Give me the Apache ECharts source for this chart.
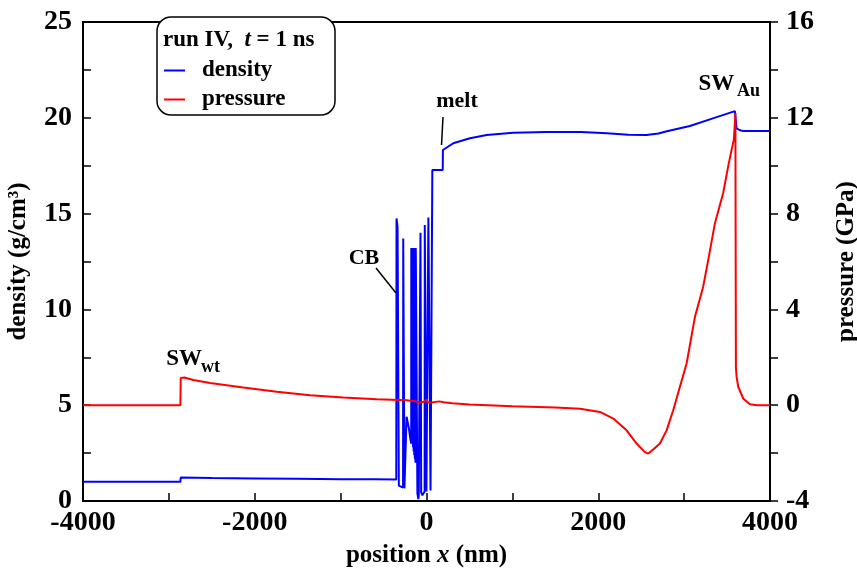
<!DOCTYPE html>
<html><head><meta charset="utf-8">
<script src="https://cdn.jsdelivr.net/npm/echarts@6/dist/echarts.min.js"></script>
<style>html,body{margin:0;padding:0;background:#fff}#c{width:857px;height:574px}</style>
</head><body><div id="c"></div>
<script>
// ---- data ----
const densityX = [-4000,-2866,-2862,-2500,-2000,-1500,-1000,-600,-352,
  -349,-340,-337,-326,-322,-300,-273,-271,-260,-257,-242,-232,-222,-205,-190,-178,
  -177,-173,-171,-167,-164,-160,-157,-153,-150,-146,-143,-139,-136,-132,-129,-125,-108,-106,
  -95,-90,-72,-70,-64,-62,-48,-22,-20,-2,-1,20,22,45,47,66,68,189,191,
  312,506,701,1010,1399,1800,2100,2350,2563,2700,2800,3067,3335,3591,3611,3650,3690,4000];
const densityY = [1.0,1.0,1.22,1.2,1.18,1.16,1.14,1.13,1.12,
  14.75,14.75,14.3,14.3,0.8,0.75,0.7,13.7,13.7,0.66,0.7,4.4,4.3,3.8,3.3,3.0,
  13.2,13.2,3.2,13.2,3.0,13.2,2.8,13.2,2.6,13.2,2.4,13.2,2.2,13.2,2.0,13.2,13.2,0.4,
  0.1,0.3,0.4,14.0,14.0,0.45,0.3,0.5,14.4,14.4,0.5,0.5,14.8,14.8,0.55,0.6,17.27,17.27,18.32,
  18.67,18.93,19.1,19.22,19.26,19.26,19.2,19.12,19.1,19.18,19.3,19.57,19.97,20.35,19.45,19.35,19.31,19.31];
const pressureX = [-4000,-2866,-2862,-2820,-2715,-2520,-2133,-1744,-1356,-969,-580,-230,-120,-76,-30,2,15,40,150,200,300,500,
  1000,1500,1788,2020,2175,2330,2447,2540,2582,2640,2718,2796,2873,2951,3029,3126,3222,3281,3359,3455,3513,3553,3580,3597,
  3603,3611,3630,3688,3766,3850,4000];
const pressureY = [0,0,1.14,1.16,1.05,0.93,0.74,0.56,0.42,0.32,0.25,0.21,0.15,0.11,0.14,0.24,0.12,0.1,0.16,0.12,0.08,0.03,
  -0.04,-0.1,-0.15,-0.28,-0.56,-1.05,-1.6,-1.95,-2.02,-1.85,-1.6,-1.05,-0.21,0.77,1.74,3.69,4.95,6.07,7.6,8.86,9.97,10.67,11.1,12.2,
  1.6,1.18,0.77,0.28,0.04,0,0];
const xTicks = {min:-4000, max:4000, step:2000};
const densityTicks = {min:0, max:25, step:5};
const pressureTicks = {min:-4, max:16, step:4};
const seriesNames = ['density','pressure'];
const legendTitle = ['run IV,  ', 't', ' = 1 ns'];
// annotations (data coordinates on the density axis)
const labels = [
  {t:'CB', x:-728, y:12.68, s:22},
  {t:'melt', x:355, y:20.88, s:22},
  {t:'SW', x:-2823, y:7.41, s:23},
  {t:'wt', x:-2515, y:6.98, s:18},
  {t:'SW', x:3375, y:21.76, s:23},
  {t:'Au', x:3750, y:21.37, s:18}
];
const pointers = [[[-588,12.16],[-355,10.86]], [[192,20.04],[175,18.58]]];

const FONT = '"Liberation Serif","Times New Roman",serif';
const zip = (a,b) => a.map((v,i)=>[v,b[i]]);
const chart = echarts.init(document.getElementById('c'), null, {renderer:'canvas'});
const tickCommon = {show:true, length:8, lineStyle:{color:'#000', width:1.5}};
const labelCommon = {color:'#000', fontFamily:FONT, fontWeight:'bold', fontSize:28, formatter:v => String(v)};
const nameCommon = {color:'#000', fontFamily:FONT, fontWeight:'bold', fontSize:25};
chart.setOption({
  animation:false,
  backgroundColor:'#fff',
  grid:{left:83, right:87, top:22, bottom:73, show:true, borderColor:'#000', borderWidth:2, backgroundColor:'transparent',
        containLabel:false, outerBoundsMode:'none'},
  legend:{
    data:seriesNames, orient:'vertical', left:159, top:54, icon:'rect', itemWidth:21, itemHeight:2, itemGap:6,
    textStyle:{color:'#000', fontFamily:FONT, fontWeight:'bold', fontSize:23, lineHeight:23, padding:[0,0,0,12]},
    z:60
  },
  xAxis:{
    type:'value', min:xTicks.min, max:xTicks.max, interval:xTicks.step,
    axisLine:{show:true, onZero:false, lineStyle:{color:'#000', width:2}},
    axisTick:Object.assign({inside:true}, tickCommon),
    minorTick:{show:true, splitNumber:2, length:8, lineStyle:{color:'#000', width:1.5}},
    splitLine:{show:false},
    axisLabel:Object.assign({margin:8}, labelCommon),
    name:'{b|position }{i|x}{b| (nm)}', nameLocation:'middle', nameGap:42,
    nameTextStyle:{rich:{b:nameCommon, i:Object.assign({}, nameCommon, {fontStyle:'italic'})}}
  },
  yAxis:[{
    type:'value', min:densityTicks.min, max:densityTicks.max, interval:densityTicks.step, position:'left',
    axisLine:{show:true, onZero:false, lineStyle:{color:'#000', width:2}},
    axisTick:Object.assign({inside:true}, tickCommon),
    minorTick:{show:true, splitNumber:2, length:8, lineStyle:{color:'#000', width:1.5}},
    splitLine:{show:false},
    axisLabel:Object.assign({margin:11}, labelCommon),
    name:'density (g/cm³)', nameLocation:'middle', nameGap:52, nameRotate:90,
    nameTextStyle:nameCommon
  },{
    type:'value', min:pressureTicks.min, max:pressureTicks.max, interval:pressureTicks.step, position:'right',
    axisLine:{show:true, onZero:false, lineStyle:{color:'#000', width:2}},
    axisTick:Object.assign({inside:false}, tickCommon),
    minorTick:{show:true, splitNumber:2, length:8, lineStyle:{color:'#000', width:1.5}},
    splitLine:{show:false},
    axisLabel:Object.assign({margin:16}, labelCommon),
    name:'pressure (GPa)', nameLocation:'middle', nameGap:64, nameRotate:90,
    nameTextStyle:nameCommon
  }],
  series:[
    {name:seriesNames[0], type:'line', yAxisIndex:0, data:zip(densityX,densityY), symbol:'none',
     lineStyle:{color:'#0000ff', width:2}, itemStyle:{color:'#0000ff'}, z:3},
    {name:seriesNames[1], type:'line', yAxisIndex:1, data:zip(pressureX,pressureY), symbol:'none',
     lineStyle:{color:'#ff0000', width:2}, itemStyle:{color:'#ff0000'}, z:4}
  ]
});

function px(x,y){ return chart.convertToPixel({xAxisIndex:0, yAxisIndex:0}, [x,y]); }
const g = [];
g.push({type:'rect', shape:{x:157, y:17, width:178, height:98, r:14}, style:{fill:'#fff', stroke:'#000', lineWidth:1.5}, z:50});
g.push({type:'text', left:163, top:29, z:60, style:{
  text:'{b|'+legendTitle[0]+'}{i|'+legendTitle[1]+'}{b|'+legendTitle[2]+'}',
  rich:{b:{fontFamily:FONT, fontWeight:'bold', fontSize:23, fill:'#000'},
        i:{fontFamily:FONT, fontWeight:'bold', fontStyle:'italic', fontSize:23, fill:'#000'}}}});
labels.forEach(l => {
  const p = px(l.x, l.y);
  g.push({type:'text', x:p[0], y:p[1], z:40, style:{text:l.t, fontFamily:FONT, fontWeight:'bold', fontSize:l.s,
    fill:'#000', align:'center', verticalAlign:'middle'}});
});
pointers.forEach(pp => {
  const a = px(pp[0][0], pp[0][1]), b = px(pp[1][0], pp[1][1]);
  g.push({type:'line', shape:{x1:a[0], y1:a[1], x2:b[0], y2:b[1]}, style:{stroke:'#000', lineWidth:1.5}, z:40});
});
chart.setOption({graphic:g});
</script></body></html>
